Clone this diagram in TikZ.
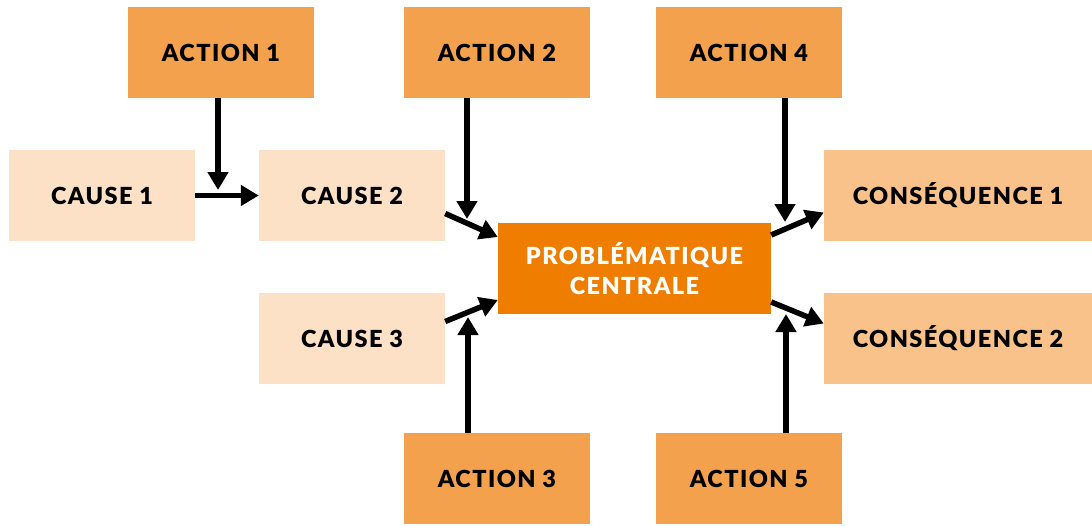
\documentclass[tikz,border=0pt]{standalone}
\usepackage{fontspec}
\setmainfont{Lato}[BoldFont={Lato Black}, LetterSpace=6]
\usetikzlibrary{positioning,arrows.meta}
\definecolor{actionorange}{HTML}{F4A14E}
\definecolor{causepeach}{HTML}{FCE1C6}
\definecolor{conspeach}{HTML}{F9C28B}
\definecolor{centralorange}{HTML}{EF7D00}

\begin{document}
\begin{tikzpicture}[x=1pt,y=-1pt]
			\tikzstyle{every node}+=[inner sep=0pt]
			\tikzstyle{box}=[rectangle, minimum width=186pt, minimum height=91pt, align=center,
				font=\fontsize{23.5}{30}\selectfont\bfseries]
			\tikzstyle{arr}=[line width=5.5pt, -{Triangle[length=18pt,width=20pt]}]
			\useasboundingbox (0,0) rectangle (1092,525);
			% actions
			\node [box, fill=actionorange] (action1) at (221,52.5) {ACTION 1};
			\node [box, fill=actionorange] (action2) at (497,52.5) {ACTION 2};
			\node [box, fill=actionorange] (action4) at (749,52.5) {ACTION 4};
			\node [box, fill=actionorange] (action3) at (497,478.5) {ACTION 3};
			\node [box, fill=actionorange] (action5) at (749,478.5) {ACTION 5};
			% causes
			\node [box, fill=causepeach] (cause1) at (102,195.5) {CAUSE 1};
			\node [box, fill=causepeach] (cause2) at (352,195.5) {CAUSE 2};
			\node [box, fill=causepeach] (cause3) at (352,338.5) {CAUSE 3};
			% centre
			\node [box, fill=centralorange, text=white, minimum width=273pt] (central) at (634.5,268.5) {PROBLÉMATIQUE\\CENTRALE};
			% consequences
			\node [box, fill=conspeach, minimum width=268pt] (cons1) at (958,195.5) {CONSÉQUENCE 1};
			\node [box, fill=conspeach, minimum width=268pt] (cons2) at (958,338.5) {CONSÉQUENCE 2};
			% arrow tips of the actions
			\coordinate (a1tip) at (218,190);
			\coordinate (a2tip) at (467,219);
			\coordinate (a4tip) at (785,222);
			\coordinate (a3tip) at (468,317);
			\coordinate (a5tip) at (786,314);
			\draw [arr] (cause1) -- (cause2);
			\draw [arr] ([yshift=-18pt]cause2.east) -- ([yshift=31.5pt]central.west);
			\draw [arr] ([yshift=17pt]cause3.east) -- ([yshift=-31.5pt]central.west);
			\draw [arr] ([yshift=33.5pt]central.east) -- ([yshift=-17pt]cons1.west);
			\draw [arr] ([yshift=-33.5pt]central.east) -- ([yshift=15pt]cons2.west);
			\draw [arr] (action1.south -| a1tip) -- (a1tip);
			\draw [arr] (action2.south -| a2tip) -- (a2tip);
			\draw [arr] (action4.south -| a4tip) -- (a4tip);
			\draw [arr] (action3.north -| a3tip) -- (a3tip);
			\draw [arr] (action5.north -| a5tip) -- (a5tip);
\end{tikzpicture}
\end{document}
